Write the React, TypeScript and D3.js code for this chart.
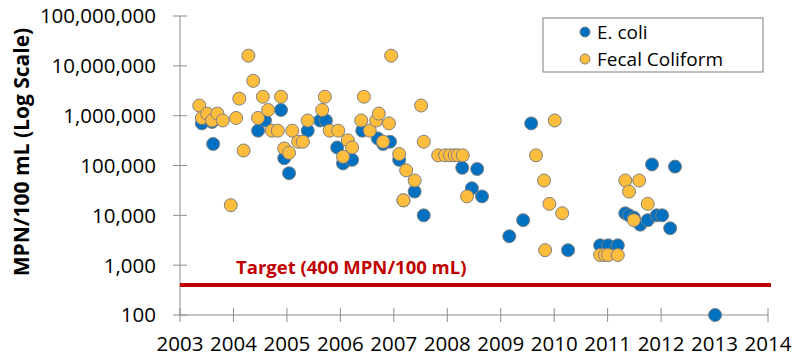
import React from 'react';
import * as d3 from 'd3';

// sample dates (decimal year) and counts
const fecalDates = [
  2003.36, 2003.41, 2003.51, 2003.60, 2003.70, 2003.80, 2003.95, 2004.05, 2004.11, 2004.19,
  2004.28, 2004.37, 2004.46, 2004.55, 2004.65, 2004.72, 2004.83, 2004.89, 2004.95, 2005.04,
  2005.10, 2005.21, 2005.30, 2005.39, 2005.66, 2005.71, 2005.80, 2005.96, 2006.05, 2006.14,
  2006.22, 2006.39, 2006.44, 2006.55, 2006.67, 2006.72, 2006.80, 2006.91, 2006.95, 2007.10,
  2007.23, 2007.18, 2007.39, 2007.51, 2007.56, 2007.83, 2007.96, 2008.05, 2008.14, 2008.20,
  2008.29, 2008.37, 2009.66, 2009.81, 2009.83, 2009.91, 2010.01, 2010.15, 2010.86, 2010.95,
  2011.01, 2011.19, 2011.33, 2011.40, 2011.49, 2011.59, 2011.75,
];
const fecalValues = [
  1600000, 900000, 1100000, 800000, 1100000, 800000, 16000, 900000, 2200000, 200000,
  16000000, 5000000, 900000, 2400000, 1300000, 500000, 500000, 2400000, 220000, 180000,
  500000, 300000, 300000, 800000, 1300000, 2400000, 500000, 500000, 150000, 320000,
  230000, 800000, 2400000, 500000, 800000, 1100000, 300000, 700000, 16000000, 170000,
  80000, 20000, 50000, 1600000, 300000, 160000, 160000, 160000, 160000, 160000,
  160000, 24000, 160000, 50000, 2000, 17000, 800000, 11000, 1600, 1600,
  1600, 1600, 50000, 30000, 8000, 50000, 17000,
];

const ecoliDates = [
  2003.41, 2003.60, 2003.62, 2004.46, 2004.59, 2004.89, 2004.95, 2005.04, 2005.39, 2005.62,
  2005.73, 2005.94, 2006.05, 2006.22, 2006.41, 2006.70, 2006.80, 2006.93, 2007.10, 2007.18,
  2007.39, 2007.56, 2008.28, 2008.46, 2008.56, 2008.65, 2009.16, 2009.42, 2009.57, 2010.26,
  2010.86, 2011.01, 2011.19, 2011.33, 2011.40, 2011.49, 2011.61, 2011.75, 2011.83, 2011.92,
  2012.02, 2012.17, 2012.26, 2013.01,
];
const ecoliValues = [
  700000, 750000, 270000, 500000, 800000, 1300000, 140000, 70000, 500000, 800000,
  800000, 230000, 110000, 130000, 500000, 350000, 270000, 300000, 130000, 20000,
  30000, 10000, 90000, 35000, 85000, 24000, 3800, 8000, 700000, 2000,
  2500, 2500, 2500, 11000, 10000, 9000, 6500, 8000, 105000, 10000,
  10000, 5500, 95000, 100,
];

const yTicks = [100, 1000, 10000, 100000, 1000000, 10000000, 100000000];
const xTicks = d3.range(2003, 2015);
const target = 400;

const W = 793;
const H = 358;
const font = '"Open Sans", sans-serif';
const blue = '#0070c0';
const orange = '#ffbd3e';
const ring = '#808080';
const axisGray = '#8c8c8c';

export default function App() {
  const x = d3.scaleLinear().domain([2003, 2014]).range([180, 768]);
  const y = d3.scaleLog().domain([100, 1e8]).range([315, 16]);
  const fmt = d3.format(',');
  const x0 = x(2003);
  const y0 = y(100);

  return (
    <svg width={W} height={H} style={{ position: 'absolute', left: 0, top: 0, background: '#fff' }}>
      {/* axes */}
      <line x1={x0} x2={x0} y1={y(1e8)} y2={y0} stroke={axisGray} strokeWidth={1} />
      <line x1={x0} x2={x(2014)} y1={y0} y2={y0} stroke={axisGray} strokeWidth={1} />
      {yTicks.map(t => (
        <g key={t}>
          <line x1={x0 - 7} x2={x0 + 7} y1={y(t)} y2={y(t)} stroke={axisGray} />
          <text x={156} y={y(t)} dy="0.36em" textAnchor="end" fontFamily={font} fontSize={20.5} fill="#000">
            {fmt(t)}
          </text>
        </g>
      ))}
      {xTicks.map(t => (
        <g key={t}>
          <line x1={x(t)} x2={x(t)} y1={y0 - 7} y2={y0 + 7} stroke={axisGray} />
          <text x={x(t)} y={351} textAnchor="middle" fontFamily={font} fontSize={20.5} fill="#000">
            {t}
          </text>
        </g>
      ))}

      <text
        transform={`translate(29,${152}) rotate(-90)`}
        textAnchor="middle"
        fontFamily={font}
        fontSize={21}
        fontWeight="bold"
        fill="#000"
      >
        MPN/100 mL (Log Scale)
      </text>

      {/* target line */}
      <line x1={x0} x2={771} y1={y(target)} y2={y(target)} stroke="#c00000" strokeWidth={4} />
      <text x={236} y={274} fontFamily={font} fontSize={18.5} fontWeight="bold" fill="#c00000">
        Target (400 MPN/100 mL)
      </text>

      {/* E. coli */}
      {ecoliDates.map((d, i) => (
        <circle key={'e' + i} cx={x(d)} cy={y(ecoliValues[i])} r={6.5} fill={blue} stroke={ring} strokeWidth={1} />
      ))}
      {/* Fecal coliform */}
      {fecalDates.map((d, i) => (
        <circle key={'f' + i} cx={x(d)} cy={y(fecalValues[i])} r={6.5} fill={orange} stroke={ring} strokeWidth={1} />
      ))}

      {/* legend */}
      <rect x={543} y={18} width={220} height={54} fill="#fff" stroke="#7f7f7f" strokeWidth={1} />
      <circle cx={585} cy={32} r={5} fill={blue} stroke={ring} />
      <text x={597} y={32} dy="0.36em" fontFamily={font} fontSize={19} fill="#000">E. coli</text>
      <circle cx={585} cy={59} r={5} fill={orange} stroke={ring} />
      <text x={597} y={59} dy="0.36em" fontFamily={font} fontSize={19} fill="#000">Fecal Coliform</text>
    </svg>
  );
}
